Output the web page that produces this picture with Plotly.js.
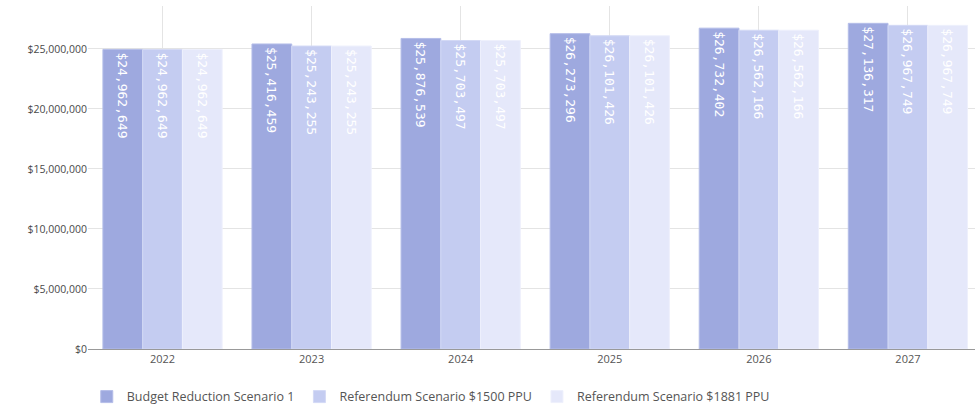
<!DOCTYPE html>
<html>
<head>
<meta charset="utf-8">
<script src="https://cdn.plot.ly/plotly-3.0.1.min.js"></script>
<style>html,body{margin:0;padding:0;background:#fff;overflow:hidden}#chart{width:975px;height:408px}</style>
</head>
<body>
<div id="chart"></div>
<script>
const years = ["2022", "2023", "2024", "2025", "2026", "2027"];
const seriesNames = ["Budget Reduction Scenario 1", "Referendum Scenario $1500 PPU", "Referendum Scenario $1881 PPU"];
const budgetReduction = [24962649, 25416459, 25876539, 26273296, 26732402, 27136317];
const referendum1500 = [24962649, 25243255, 25703497, 26101426, 26562166, 26967749];
const referendum1881 = [24962649, 25243255, 25703497, 26101426, 26562166, 26967749];
const yTickVals = [0, 5000000, 10000000, 15000000, 20000000, 25000000];
const yTickText = ["$0", "$5,000,000", "$10,000,000", "$15,000,000", "$20,000,000", "$25,000,000"];

const colors = ["#9ea9df", "#c4ccf1", "#e5e8fa"];
const borders = ["#b4bde8", "#d3d9f5", "#eef0fc"];
const allSeries = [budgetReduction, referendum1500, referendum1881];
const fmt = v => "$" + v.toLocaleString("en-US");

const traces = allSeries.map((vals, i) => ({
  type: "bar",
  name: seriesNames[i],
  x: years,
  y: vals,
  text: vals.map(fmt),
  textposition: "inside",
  insidetextanchor: "end",
  textangle: 90,
  textfont: {family: "DejaVu Sans Mono", size: 13, color: "#ffffff"},
  marker: {color: colors[i], line: {color: borders[i], width: 1}},
  hoverinfo: "none"
}));

const layout = {
  width: 975, height: 408,
  margin: {l: 88, r: 0, t: 6, b: 59},
  paper_bgcolor: "#ffffff",
  plot_bgcolor: "#ffffff",
  barmode: "group",
  bargap: 0.2,
  bargroupgap: 0,
  font: {family: "Open Sans", size: 11, color: "#555555"},
  xaxis: {
    type: "category",
    range: [-0.5, 5.45],
    showgrid: true,
    gridcolor: "#e4e4e4",
    showline: true,
    linecolor: "#999999",
    linewidth: 1,
    ticks: "",
    tickfont: {family: "Open Sans", size: 11, color: "#555555"},
    fixedrange: true
  },
  yaxis: {
    range: [0, 28580000],
    tickvals: yTickVals,
    ticktext: yTickText,
    showgrid: true,
    gridcolor: "#e4e4e4",
    zeroline: false,
    showline: false,
    ticks: "",
    tickfont: {family: "Open Sans", size: 10.5, color: "#4a4a4a"},
    fixedrange: true
  },
  showlegend: true,
  legend: {
    orientation: "h",
    xref: "container", yref: "container",
    x: 0.089, y: 0.027,
    xanchor: "left", yanchor: "middle",
    font: {family: "Open Sans", size: 12.5, color: "#555555"},
    itemwidth: 30,
    traceorder: "normal"
  }
};

Plotly.newPlot("chart", traces, layout, {displayModeBar: false, staticPlot: true});
</script>
</body>
</html>
